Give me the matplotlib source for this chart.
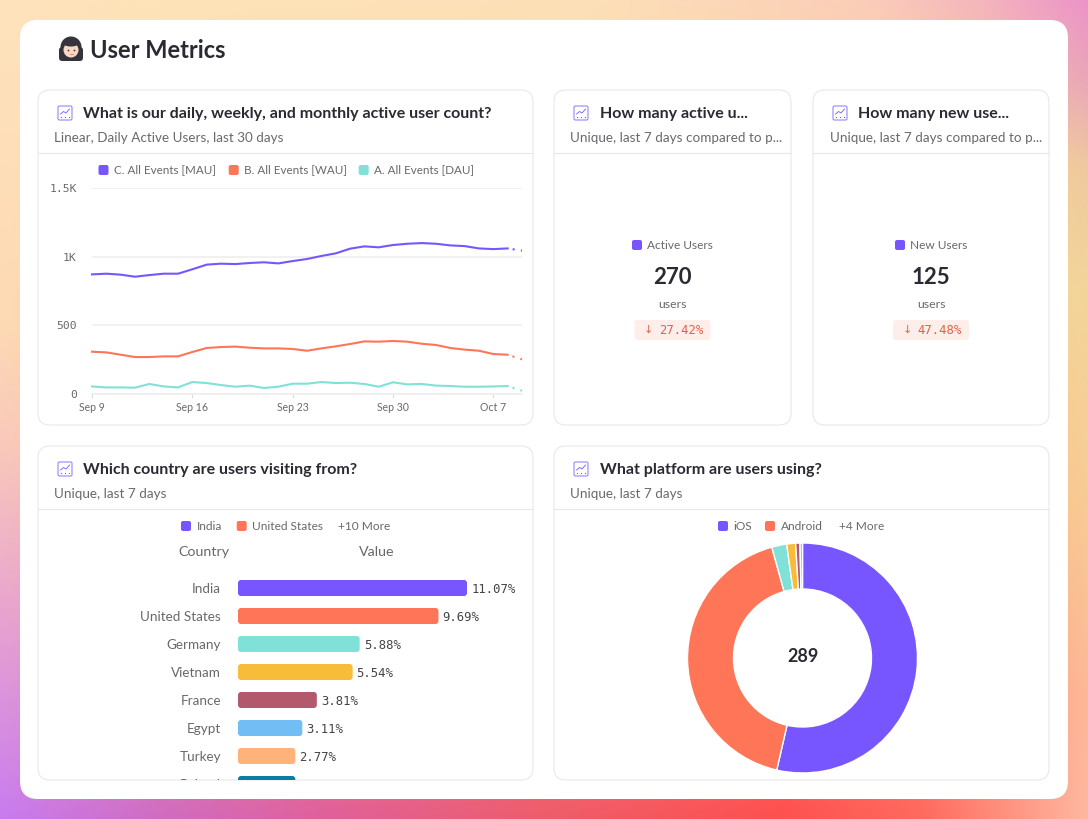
import numpy as np
import matplotlib
matplotlib.use('Agg')
import matplotlib.pyplot as plt
import matplotlib.dates as mdates
from matplotlib.colors import to_rgb
from matplotlib.patches import FancyBboxPatch, Circle, Ellipse

plt.rcParams['font.family'] = ['Lato', 'DejaVu Sans']

# line chart data
days = np.arange(np.datetime64('2019-09-09'), np.datetime64('2019-10-10'))
mau = [871, 876, 869, 854, 866, 876, 876, 908, 942, 949, 946, 954, 959, 951, 968, 983,
       1005, 1024, 1058, 1075, 1068, 1085, 1094, 1099, 1094, 1082, 1077, 1060, 1055, 1060, 1044]
wau = [308, 303, 286, 269, 269, 274, 274, 306, 335, 342, 345, 337, 332, 332, 328, 315,
       332, 347, 364, 383, 381, 386, 381, 366, 357, 335, 323, 315, 291, 286, 252]
dau = [55, 48, 48, 46, 73, 55, 48, 87, 80, 65, 53, 61, 44, 53, 75, 75,
       87, 80, 82, 73, 53, 85, 70, 73, 61, 58, 53, 53, 55, 58, 24]
y_ticks = [0, 500, 1000, 1500]
y_tick_labels = ['0', '500', '1K', '1.5K']
x_ticks = ['2019-09-09', '2019-09-16', '2019-09-23', '2019-09-30', '2019-10-07']
x_tick_labels = ['Sep 9', 'Sep 16', 'Sep 23', 'Sep 30', 'Oct 7']

# bar chart data
countries = ['India', 'United States', 'Germany', 'Vietnam', 'France', 'Egypt', 'Turkey', 'Poland']
shares = [11.07, 9.69, 5.88, 5.54, 3.81, 3.11, 2.77, 2.77]

# donut data
platforms = ['iOS', 'Android', 'Other 1', 'Other 2', 'Other 3', 'Other 4']
platform_shares = [53.6, 42.1, 2.1, 1.25, 0.6, 0.35]

PURPLE = '#7856ff'
ORANGE = '#ff7557'
TEAL = '#80e1d9'
bar_colors = [PURPLE, ORANGE, TEAL, '#f8bc3b', '#b2596e', '#72bef4', '#ffb27a', '#0d7ea0']
DARK = '#2a2a33'
GREY = '#68686e'
BORDER = '#e8e8ea'
W, H = 1088, 819

fig = plt.figure(figsize=(W / 100, H / 100), dpi=100)
bg = fig.add_axes([0, 0, 1, 1])
bg.set_xlim(0, W)
bg.set_ylim(H, 0)
bg.axis('off')


def edge(stops, n):
    pos = [s[0] for s in stops]
    cols = np.array([to_rgb(s[1]) for s in stops])
    t = np.linspace(0, 1, n)
    return np.stack([np.interp(t, pos, cols[:, i]) for i in range(3)], axis=1)


# background gradient: blend of the four edge colour ramps
top = edge([(0, '#fde3bd'), (.15, '#fee3b8'), (.55, '#fddfb8'), (.8, '#fbcdb9'), (.9, '#f5b6bc'), (1, '#ec93c8')], W)
bottom = edge([(0, '#c87cf0'), (.15, '#d06cc0'), (.3, '#e0609a'), (.5, '#ee5c6c'), (.72, '#fe5050'), (.85, '#ff6a60'), (1, '#ffb8a0')], W)
left = edge([(0, '#fde3bd'), (.4, '#fdd9b5'), (.55, '#f9c8bc'), (.75, '#e8a4d0'), (1, '#c87cf0')], H)
right = edge([(0, '#ec93c8'), (.1, '#eaa8b8'), (.2, '#efc8a0'), (.35, '#f2d59c'), (.6, '#f8cc96'), (.85, '#fdb898'), (1, '#ffb8a0')], H)
u = np.linspace(0, 1, W)[None, :, None]
v = np.linspace(0, 1, H)[:, None, None]
img = (1 - v) * top[None, :, :] + v * bottom[None, :, :] + (1 - u) * left[:, None, :] + u * right[:, None, :]
img -= (1 - u) * (1 - v) * top[0] + u * (1 - v) * top[-1] + (1 - u) * v * bottom[0] + u * v * bottom[-1]
bg.imshow(np.clip(img, 0, 1), extent=(0, W, H, 0), aspect='auto', zorder=0)
bg.set_xlim(0, W)
bg.set_ylim(H, 0)


def round_box(x0, y0, x1, y1, r, fc, ec='none', lw=0, z=1):
    p = FancyBboxPatch((x0 + r, y0 + r), x1 - x0 - 2 * r, y1 - y0 - 2 * r,
                       boxstyle='round,pad=%f,rounding_size=%f' % (r, r),
                       fc=fc, ec=ec, lw=lw, zorder=z)
    bg.add_patch(p)
    return p


def px_axes(x0, y0, x1, y1):
    return fig.add_axes([x0 / W, 1 - y1 / H, (x1 - x0) / W, (y1 - y0) / H])


def label(x, y, s, size=8.6, color=GREY, ha='left', weight='normal', **kw):
    # Lato sits a bit high with va=center
    return bg.text(x, y + 1, s, fontsize=size, color=color, ha=ha, va='center', weight=weight, zorder=5, **kw)


def swatch(x, y, color):
    round_box(x, y - 5, x + 10, y + 5, 2, color, z=4)


def icon(x, y):
    round_box(x, y, x + 14, y + 14, 1.5, '#ffffff', ec='#9a84ff', lw=0.8, z=4)
    bg.plot([x + 2.5, x + 5.5, x + 8, x + 11.5], [y + 8, y + 5.5, y + 7, y + 3], color=PURPLE, lw=0.6, zorder=5)
    bg.plot([x + 3, x + 7, x + 11], [y + 11, y + 11, y + 11], ls='none', marker='s', ms=0.8, mew=0, color=PURPLE, zorder=5)


def card(x0, y0, x1, y1, title, sub, title_x):
    round_box(x0, y0, x1, y1, 12, '#ffffff', ec=BORDER, lw=0.8, z=2)
    bg.plot([x0, x1], [y0 + 63, y0 + 63], color=BORDER, lw=0.8, zorder=3)
    icon(x0 + 20, y0 + 16)
    label(title_x, y0 + 23, title, size=11.5, color=DARK, weight='bold')
    label(x0 + 16.5, y0 + 47, sub, size=9.7)


# white panel and page title
round_box(20, 20, 1068, 799, 18, '#ffffff', z=1)
bg.add_patch(Ellipse((71, 47), 21, 21, fc='#34343a', ec='none', zorder=4))
round_box(59, 47, 83, 61, 3, '#34343a', z=4)
bg.add_patch(Circle((71, 50), 7.5, fc='#f9d7c4', ec='none', zorder=5))
bg.add_patch(Ellipse((71, 43.5), 15, 6, fc='#34343a', ec='none', zorder=6))
bg.plot([68, 74], [50, 50], ls='none', marker='o', ms=1.3, mew=0, color='#4a3a34', zorder=7)
bg.plot([69.5, 72.5], [54, 54], color='#d98f86', lw=0.7, zorder=7)
label(90, 49.5, 'User Metrics', size=17, color=DARK, weight='bold')

card(38, 90, 533, 425, 'What is our daily, weekly, and monthly active user count?',
     'Linear, Daily Active Users, last 30 days', 83)
card(554, 90, 791, 425, 'How many active u...', 'Unique, last 7 days compared to p...', 600)
card(813, 90, 1049, 425, 'How many new use...', 'Unique, last 7 days compared to p...', 858)
card(38, 446, 533, 780, 'Which country are users visiting from?', 'Unique, last 7 days', 83)
card(554, 446, 1049, 780, 'What platform are users using?', 'Unique, last 7 days', 600)

# line chart legend
for sx, tx, c, s in [(98.5, 114, PURPLE, 'C. All Events [MAU]'),
                     (228.7, 244, ORANGE, 'B. All Events [WAU]'),
                     (358.7, 373.5, TEAL, 'A. All Events [DAU]')]:
    swatch(sx, 170, c)
    label(tx, 169, s, size=8.35)

# line chart
ax = px_axes(92, 188, 522, 394)
ax.patch.set_alpha(0)
for series, c in [(mau, PURPLE), (wau, ORANGE), (dau, TEAL)]:
    ax.plot(days[:-1], series[:-1], color=c, lw=1.5, clip_on=False, zorder=3)
    ax.plot(days[-2:], series[-2:], color=c, lw=1.5, ls=(1.6, (1, 3)), clip_on=False, zorder=3)
ax.set_xlim(days[0], days[-1])
ax.set_ylim(0, 1500)
ax.set_yticks(y_ticks)
ax.set_yticklabels(y_tick_labels, fontsize=8.2, color=GREY)
for t in ax.get_yticklabels():
    t.set_fontfamily('DejaVu Sans Mono')
ax.set_xticks([mdates.date2num(np.datetime64(d)) for d in x_ticks])
ax.set_xticklabels(x_tick_labels, fontsize=7.6, color=GREY)
ax.tick_params(axis='y', length=0, pad=11)
ax.tick_params(axis='x', length=3, width=0.8, color='#dcdcdc', pad=3)
ax.grid(axis='y', color='#eeeeee', lw=1.1)
ax.set_axisbelow(True)
for name, sp in ax.spines.items():
    sp.set_visible(name == 'bottom')
    sp.set_color('#eeeeee')
    sp.set_linewidth(1.1)

# the two number cards
for cx, sx, tx, name, value, delta in [(672.5, 632, 647.3, 'Active Users', '270', '27.42%'),
                                       (931, 895, 910.5, 'New Users', '125', '47.48%')]:
    swatch(sx, 245, PURPLE)
    label(tx, 244.5, name)
    label(cx, 276, value, size=16, color=DARK, ha='center', weight='bold')
    label(cx, 303, 'users', size=8.8, ha='center')
    round_box(cx - 38, 320, cx + 38, 340, 3, '#fdeeea', z=4)
    label(cx - 24, 329, '↓', size=8, color='#e4604a', ha='center', family='DejaVu Sans')
    label(cx + 8.5, 329, delta, size=8.8, color='#e4604a', ha='center', family='DejaVu Sans Mono')

# bar chart legend and headers
swatch(181, 526, PURPLE)
label(196.5, 525, 'India')
swatch(236.7, 526, ORANGE)
label(251.7, 525, 'United States')
label(338.5, 525, '+10 More')
label(204, 551, 'Country', size=10.3, ha='center')
label(376.7, 551, 'Value', size=10.3, ha='center')

# bar chart, axes stops at the card edge so the last row gets cut off
bar_px = 20.69
bar_zero = 238
row_px = 28
bar_ax = px_axes(40, 572, 530, 779.5)
bar_ax.axis('off')
bar_ax.set_xlim((40 - bar_zero) / bar_px, (530 - bar_zero) / bar_px)
bar_ax.set_ylim((779.5 - 588) / row_px, (572 - 588) / row_px)
ypos = np.arange(len(countries))
bars = bar_ax.barh(ypos, shares, height=16 / row_px, color=bar_colors)
# swap the square bars for rounded ones with the same geometry
for b, c in zip(bars, bar_colors):
    b.set_visible(False)
    bar_ax.add_patch(FancyBboxPatch((b.get_x(), b.get_y()), b.get_width(), b.get_height(),
                                    boxstyle='round,pad=0,rounding_size=%f' % (3 / bar_px),
                                    mutation_aspect=bar_px / row_px, fc=c, ec='none'))
for y, name, share in zip(ypos, countries, shares):
    bar_ax.text(-17 / bar_px, y + 0.02, name, ha='right', va='center', fontsize=9.7, color=GREY, clip_on=True)
    bar_ax.text(share + 4 / bar_px, y + 0.04, '%.2f%%' % share, ha='left', va='center', fontsize=8.8,
                color='#444448', family='DejaVu Sans Mono', clip_on=True)

# donut legend
swatch(718, 526, PURPLE)
label(733.7, 525, 'iOS')
swatch(765, 526, ORANGE)
label(780.7, 525, 'Android')
label(839, 525, '+4 More')

# donut
pie_ax = px_axes(802.5 - 115, 658 - 115, 802.5 + 115, 658 + 115)
pie_ax.pie(platform_shares, colors=[PURPLE, ORANGE, TEAL, '#f8bc3b', '#b2596e', '#72bef4'],
           startangle=90, counterclock=False, radius=1,
           wedgeprops={'width': 0.4, 'edgecolor': 'white', 'linewidth': 1})
pie_ax.set_xlim(-1, 1)
pie_ax.set_ylim(-1, 1)
pie_ax.text(0, 0.01, '289', ha='center', va='center', fontsize=13, color=DARK, weight='bold')

fig.savefig('out.png', dpi=100)
